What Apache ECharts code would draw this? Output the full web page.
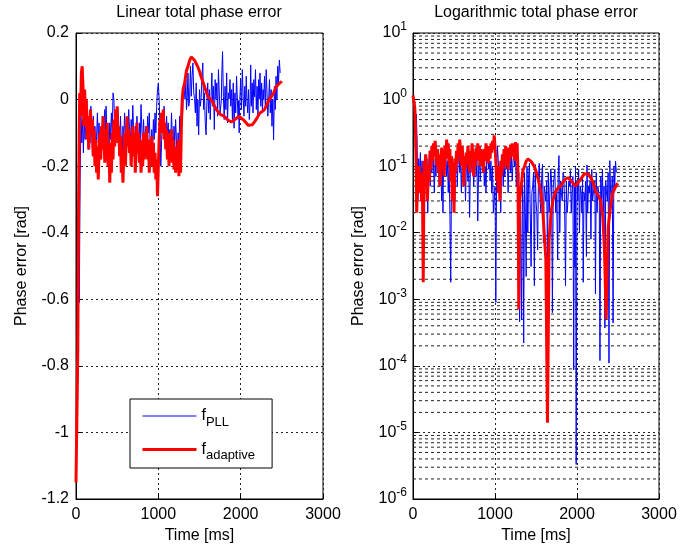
<!DOCTYPE html>
<html>
<head>
<meta charset="utf-8">
<script src="https://cdn.jsdelivr.net/npm/echarts@6/dist/echarts.min.js"></script>
<style>
html, body { margin: 0; padding: 0; background: #fff; }
#chart { width: 680px; height: 552px; }
</style>
</head>
<body>
<div id="chart"></div>
<script>
// phase error samples: [time ms, error rad]
const pllError = [
    [30,-0.15],[40,-0.61],[50,-0.25],[60,-0.03],[70,-0.13],[80,-0.06],[90,-0.16],[100,-0.044],[110,-0.12],[120,-0.07],
    [130,-0.005],[140,-0.1],[150,-0.15],[160,-0.06],[170,-0.13],[180,-0.02],[190,-0.1],[200,-0.17],[210,-0.05],[220,-0.12],
    [230,-0.08],[240,-0.16],[250,-0.11],[260,-0.04],[270,-0.13],[280,-0.07],[290,-0.18],[300,-0.09],[310,-0.14],[320,-0.05],
    [330,-0.12],[340,-0.08],[350,-0.03],[360,-0.11],[365,-0.02],[370,-0.06],[380,-0.15],[390,-0.1],[400,-0.17],[410,-0.07],
    [420,-0.12],[430,-0.04],[440,-0.1],[450,0.02],[460,0.0018],[470,-0.08],[480,-0.14],[490,-0.06],[500,-0.11],[510,-0.03],
    [520,-0.09],[530,-0.15],[540,-0.05],[550,-0.12],[560,-0.2],[570,-0.08],[580,-0.13],[590,-0.04],[600,-0.1],[610,-0.16],
    [620,-0.07],[630,-0.12],[640,-0.03],[650,-0.09],[660,-0.14],[670,-0.06],[680,-0.11],[690,-0.017],[700,-0.1],[710,-0.15],
    [720,-0.08],[730,-0.13],[740,-0.05],[750,-0.1],[760,-0.18],[770,-0.07],[780,-0.12],[790,-0.015],[800,-0.09],[810,-0.14],
    [820,-0.06],[830,-0.11],[840,-0.17],[850,-0.08],[860,-0.13],[870,-0.05],[880,-0.1],[890,-0.04],[900,-0.14],[910,-0.19],
    [920,-0.09],[930,-0.15],[940,-0.06],[950,-0.12],[960,-0.04],[970,-0.1],[980,-0.02],[990,0.03],[1000,0.05],[1010,0.0009],
    [1020,-0.08],[1030,-0.2],[1040,-0.12],[1050,-0.06],[1060,-0.1],[1070,-0.02],[1080,-0.09],[1090,-0.14],[1100,-0.05],[1110,-0.11],
    [1120,-0.07],[1130,-0.16],[1140,-0.09],[1150,-0.13],[1160,-0.04],[1170,-0.11],[1180,-0.17],[1190,-0.08],[1200,-0.14],[1210,-0.06],
    [1220,-0.12],[1230,-0.2],[1240,-0.1],[1250,-0.15],[1260,-0.05],[1270,-0.11],[1280,-0.02],[1290,-0.08],[1300,-0.00046],[1310,0.04],
    [1325,0.00049],[1335,0.06],[1342,-0.03],[1350,-0.00022],[1360,0.08],[1370,-0.02],[1380,0.0022],[1390,0.1],[1400,0.01],[1410,0.07],
    [1420,0.11],[1430,0.02],[1440,0.0031],[1450,-0.04],[1460,0.05],[1470,-0.08],[1480,-0.0016],[1490,-0.106],[1500,0.03],[1510,-0.02],
    [1520,0.0055],[1530,0.07],[1540,0.11],[1550,-0.03],[1560,0.02],[1570,-0.07],[1580,-0.106],[1590,-0.007],[1600,0.05],[1610,-0.04],
    [1620,0.03],[1630,-0.06],[1640,0.0039],[1650,0.08],[1660,-0.02],[1670,0.04],[1680,-0.09],[1690,0.06],[1700,0.00063],[1710,0.05],
    [1720,-0.05],[1730,0.09],[1740,0.02],[1750,-0.04],[1765,-0.0039],[1770,0.07],[1780,0.144],[1790,0.01],[1800,-0.06],[1810,0.04],
    [1820,-0.03],[1830,0.08],[1840,-0.07],[1850,0.02],[1860,0.0016],[1870,0.06],[1880,-0.02],[1890,0.03],[1900,-0.06],[1910,0.05],
    [1920,-0.086],[1930,0.02],[1940,-0.04],[1950,0.07],[1960,0.000087],[1968,-0.05],[1975,-0.003],[1982,-0.1],[1990,0.0000033],[2000,0.06],
    [2010,-0.03],[2020,0.09],[2030,0.01],[2040,-0.05],[2050,0.04],[2060,-0.02],[2068,0.07],[2076,0.0018],[2085,-0.04],[2095,0.03],
    [2105,-0.06],[2115,-0.0044],[2122,0.104],[2130,-0.02],[2140,0.05],[2150,-0.04],[2160,0.06],[2170,0.008],[2180,0.09],[2190,-0.03],
    [2200,0.04],[2210,-0.05],[2218,0.06],[2225,0.0012],[2235,0.08],[2245,-0.02],[2255,0.05],[2265,-0.04],[2272,0.03],[2280,0.00012],
    [2290,0.07],[2300,-0.03],[2310,0.09],[2320,0.02],[2330,-0.05],[2340,-0.00037],[2350,0.06],[2360,-0.04],[2370,0.03],[2380,-0.08],
    [2390,0.00011],[2400,-0.121],[2410,0.04],[2420,-0.03],[2430,0.07],[2440,0.00044],[2450,0.1],[2460,0.05],[2470,0.119],[2480,0.08]
];

const adaptiveError = [
    [0,-1.15],[12,-1.15],[22,-0.75],[30,-0.35],[38,-0.12],[45,0.02],[55,-0.05],[65,0.08],[75,0.1],[85,0.04],
    [95,-0.08],[105,0.03],[115,-0.05],[125,0.0018],[135,-0.12],[145,-0.05],[155,-0.15],[165,-0.08],[175,-0.03],[190,-0.1],
    [200,-0.06],[210,-0.17],[220,-0.09],[230,-0.2],[240,-0.12],[250,-0.22],[260,-0.14],[270,-0.24],[280,-0.16],[290,-0.1],
    [300,-0.18],[310,-0.08],[320,-0.15],[330,-0.05],[340,-0.12],[350,-0.19],[360,-0.09],[370,-0.15],[380,-0.07],[390,-0.2],
    [400,-0.13],[410,-0.25],[420,-0.16],[430,-0.22],[440,-0.1],[450,-0.18],[460,-0.06],[470,-0.14],[480,-0.03],[490,-0.11],
    [500,-0.02],[510,-0.13],[520,-0.08],[530,-0.17],[540,-0.11],[550,-0.22],[560,-0.15],[570,-0.25],[580,-0.17],[590,-0.1],
    [600,-0.2],[610,-0.12],[620,-0.05],[630,-0.14],[640,-0.09],[650,-0.16],[660,-0.11],[670,-0.2],[680,-0.13],[690,-0.08],
    [700,-0.17],[710,-0.1],[720,-0.22],[730,-0.14],[740,-0.07],[750,-0.16],[760,-0.1],[770,-0.19],[780,-0.12],[790,-0.22],
    [800,-0.15],[810,-0.2],[820,-0.1],[830,-0.18],[840,-0.12],[850,-0.16],[860,-0.08],[870,-0.18],[880,-0.12],[890,-0.22],
    [900,-0.15],[910,-0.2],[920,-0.11],[930,-0.18],[940,-0.13],[950,-0.22],[960,-0.16],[970,-0.24],[980,-0.18],[990,-0.29],
    [1000,-0.2],[1010,-0.12],[1020,-0.06],[1030,-0.1],[1040,-0.04],[1050,-0.08],[1060,-0.03],[1070,-0.12],[1080,-0.07],[1090,-0.15],
    [1100,-0.09],[1110,-0.18],[1120,-0.1],[1130,-0.2],[1140,-0.13],[1150,-0.17],[1160,-0.09],[1170,-0.19],[1180,-0.12],[1190,-0.21],
    [1200,-0.14],[1210,-0.22],[1220,-0.16],[1230,-0.2],[1240,-0.12],[1250,-0.23],[1260,-0.15],[1270,-0.22],[1280,-0.08],[1290,-0.0007],
    [1300,0.03],[1320,0.05],[1340,0.085],[1360,0.1],[1380,0.118],[1400,0.128],[1420,0.124],[1440,0.118],[1460,0.108],[1480,0.098],
    [1500,0.085],[1520,0.068],[1540,0.054],[1560,0.04],[1580,0.025],[1600,0.01],[1620,0.004],[1640,0.000014],[1660,-0.008],[1685,-0.021],
    [1710,-0.032],[1740,-0.042],[1770,-0.047],[1800,-0.05],[1830,-0.058],[1860,-0.064],[1890,-0.067],[1920,-0.062],[1950,-0.056],[1980,-0.05],
    [2000,-0.052],[2030,-0.06],[2060,-0.068],[2090,-0.077],[2110,-0.08],[2140,-0.076],[2170,-0.066],[2200,-0.055],[2230,-0.041],[2260,-0.036],
    [2290,-0.03],[2315,-0.017],[2335,-0.0055],[2356,-0.0005],[2380,0.012],[2400,0.02],[2430,0.038],[2460,0.046],[2480,0.052],[2500,0.055]
];

const linearTicks = [-1.2, 0.2, 0.2];      // min, max, step
const timeTicks = [0, 3000, 1000];
const logDecades = [-6, -5, -4, -3, -2, -1, 0];
const minorSteps = [2, 3, 4, 5, 6, 7, 8, 9];

const FONT = '"Liberation Sans", Arial, Helvetica, sans-serif';

// minor grid of the log axis at 2..9 x 10^n, drawn as line segments split by empty points
let minorGrid = [];
logDecades.forEach(d => {
    minorSteps.forEach(m => {
        let v = m * Math.pow(10, d);
        minorGrid.push([timeTicks[0], v], [timeTicks[1], v], ['-', '-']);
    })
})

const magnitude = arr => arr.map(p => [p[0], Math.abs(p[1])]);

const gridLine = { show: true, lineStyle: { color: '#222', type: [2, 3], width: 1 } };
const tick = { show: true, inside: true, length: 5, lineStyle: { color: '#000' } };

function timeAxis(idx) {
    return {
        gridIndex: idx,
        type: 'value',
        min: timeTicks[0],
        max: timeTicks[1],
        interval: timeTicks[2],
        name: 'Time [ms]',
        nameLocation: 'middle',
        nameGap: 29,
        nameTextStyle: { fontSize: 16, color: '#000', fontFamily: FONT },
        axisLine: { show: true, onZero: false, lineStyle: { color: '#000' } },
        axisTick: tick,
        axisLabel: { color: '#000', fontSize: 16, margin: 8, fontFamily: FONT, formatter: v => String(v) },
        splitLine: gridLine
    }
}

const option = {
    animation: false,
    backgroundColor: '#fff',
    title: [{
        text: 'Linear total phase error',
        left: 199, top: 5, padding: 0, textAlign: 'center',
        textStyle: { fontSize: 16, fontWeight: 'normal', color: '#000', fontFamily: FONT }
    }, {
        text: 'Logarithmic total phase error',
        left: 536, top: 5, padding: 0, textAlign: 'center',
        textStyle: { fontSize: 16, fontWeight: 'normal', color: '#000', fontFamily: FONT }
    }],
    grid: [
        { left: 76, top: 33, width: 247, height: 466, show: true, borderColor: '#000', borderWidth: 1, backgroundColor: 'transparent' },
        { left: 413, top: 33, width: 246, height: 466, show: true, borderColor: '#000', borderWidth: 1, backgroundColor: 'transparent' }
    ],
    legend: {
        data: [
            { name: 'PLL', lineStyle: { width: 1 } },
            { name: 'adaptive', lineStyle: { width: 3 } }
        ],
        orient: 'vertical',
        left: 130,
        top: 399,
        padding: [9, 17, 6, 11],
        itemGap: 13,
        itemWidth: 54,
        itemHeight: 12,
        itemStyle: { opacity: 0 },
        backgroundColor: '#fff',
        borderColor: '#000',
        borderWidth: 1,
        borderRadius: 0,
        formatter: name => '{f|f}{s|' + name + '}',
        textStyle: {
            color: '#000',
            fontFamily: FONT,
            rich: {
                f: { fontSize: 16, color: '#000', fontFamily: FONT },
                s: { fontSize: 13, color: '#000', fontFamily: FONT, padding: [12, 0, 0, 0] }
            }
        }
    },
    xAxis: [timeAxis(0), timeAxis(1)],
    yAxis: [{
        gridIndex: 0,
        type: 'value',
        min: linearTicks[0],
        max: linearTicks[1],
        interval: linearTicks[2],
        name: 'Phase error [rad]',
        nameLocation: 'middle',
        nameGap: 46,
        nameTextStyle: { fontSize: 16, color: '#000', fontFamily: FONT },
        axisLine: { show: true, onZero: false, lineStyle: { color: '#000' } },
        axisTick: tick,
        axisLabel: {
            color: '#000', fontSize: 16, margin: 7, fontFamily: FONT,
            formatter: v => String(Math.round(v * 10) / 10)
        },
        splitLine: gridLine
    }, {
        gridIndex: 1,
        type: 'log',
        logBase: 10,
        min: 1e-6,
        max: 10,
        splitNumber: 7,
        name: 'Phase error [rad]',
        nameLocation: 'middle',
        nameGap: 46,
        nameTextStyle: { fontSize: 16, color: '#000', fontFamily: FONT },
        axisLine: { show: true, onZero: false, lineStyle: { color: '#000' } },
        axisTick: tick,
        axisLabel: {
            margin: 6,
            formatter: v => '{b|10}{e|' + Math.round(Math.log10(v)) + '}',
            rich: {
                b: { fontSize: 16, color: '#000', fontFamily: FONT },
                e: { fontSize: 12, color: '#000', fontFamily: FONT, padding: [0, 0, 12, 0] }
            }
        },
        splitLine: gridLine
    }],
    series: [{
        name: 'PLL', type: 'line', xAxisIndex: 0, yAxisIndex: 0,
        data: pllError, showSymbol: false, symbol: 'none', z: 3,
        lineStyle: { color: '#0000ff', width: 1 }, itemStyle: { color: '#0000ff' }
    }, {
        name: 'adaptive', type: 'line', xAxisIndex: 0, yAxisIndex: 0,
        data: adaptiveError, showSymbol: false, symbol: 'none', z: 4,
        lineStyle: { color: '#ff0000', width: 3 }, itemStyle: { color: '#ff0000' }
    }, {
        name: 'minor grid', type: 'line', xAxisIndex: 1, yAxisIndex: 1,
        data: minorGrid, showSymbol: false, symbol: 'none', silent: true, z: 1,
        connectNulls: false,
        lineStyle: { color: '#222', type: [3, 3], width: 1 }
    }, {
        name: 'PLL', type: 'line', xAxisIndex: 1, yAxisIndex: 1,
        data: magnitude(pllError), showSymbol: false, symbol: 'none', z: 3,
        lineStyle: { color: '#0000ff', width: 1 }, itemStyle: { color: '#0000ff' }
    }, {
        name: 'adaptive', type: 'line', xAxisIndex: 1, yAxisIndex: 1,
        data: magnitude(adaptiveError), showSymbol: false, symbol: 'none', z: 4,
        lineStyle: { color: '#ff0000', width: 3 }, itemStyle: { color: '#ff0000' }
    }]
};

var myChart = echarts.init(document.getElementById('chart'));
myChart.setOption(option);
</script>
</body>
</html>
